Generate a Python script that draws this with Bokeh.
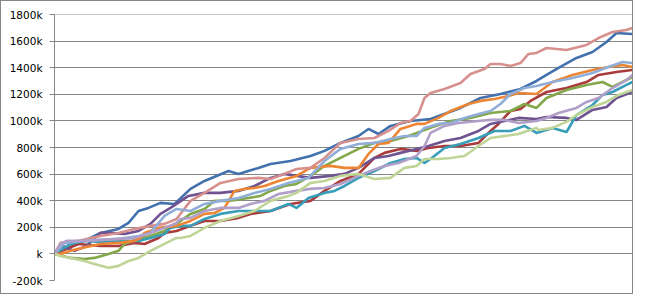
from bokeh.plotting import figure
from bokeh.models import Range1d, FixedTicker
from bokeh.embed import file_html
from bokeh.resources import INLINE

# values in thousands (k); x = simulation step
blue_x = [0, 15, 23, 32, 37, 42, 47, 53, 60, 68, 75, 87, 92, 102, 108, 118, 128, 135, 143, 152, 157, 162, 168, 178, 188, 203, 213, 223, 233, 241, 246, 252, 261, 269, 276, 281, 289]
blue_y = [0, 98, 158, 188, 233, 323, 346, 384, 376, 489, 549, 624, 602, 647, 677, 699, 737, 775, 835, 887, 940, 902, 963, 1000, 1015, 1098, 1173, 1203, 1241, 1301, 1346, 1399, 1474, 1519, 1594, 1662, 1654]

red_x = [0, 6, 12, 23, 32, 40, 45, 52, 55, 61, 68, 75, 83, 92, 98, 108, 118, 128, 135, 143, 152, 160, 165, 173, 181, 187, 195, 203, 212, 218, 222, 228, 233, 238, 246, 256, 266, 272, 281, 289]
red_y = [0, 38, 75, 60, 60, 83, 75, 120, 158, 173, 211, 248, 248, 271, 301, 323, 376, 399, 474, 549, 602, 722, 760, 790, 775, 797, 812, 812, 835, 925, 978, 1075, 1090, 1151, 1218, 1248, 1293, 1346, 1369, 1384]

green_x = [0, 8, 15, 20, 27, 32, 35, 42, 48, 55, 61, 68, 75, 80, 87, 97, 103, 108, 115, 121, 128, 135, 143, 152, 160, 168, 177, 188, 198, 208, 218, 228, 235, 241, 246, 256, 266, 274, 279, 286, 289]
green_y = [0, -30, -38, -30, 0, 23, 75, 113, 135, 173, 226, 301, 338, 399, 399, 421, 436, 474, 511, 526, 587, 662, 722, 790, 835, 850, 887, 948, 1000, 1023, 1060, 1075, 1128, 1098, 1173, 1233, 1271, 1293, 1256, 1308, 1331]

purple_x = [0, 4, 10, 16, 23, 28, 35, 42, 48, 53, 58, 61, 67, 75, 83, 92, 100, 108, 115, 121, 128, 138, 145, 152, 160, 167, 173, 181, 187, 195, 203, 212, 218, 225, 232, 241, 246, 256, 261, 269, 276, 281, 289]
purple_y = [0, 60, 23, 60, 158, 158, 150, 173, 226, 301, 346, 376, 436, 459, 459, 474, 511, 572, 602, 587, 572, 587, 602, 647, 722, 737, 760, 790, 812, 850, 872, 925, 978, 1000, 1023, 1015, 1030, 1023, 1008, 1083, 1105, 1173, 1218]

teal_x = [0, 4, 8, 15, 23, 32, 42, 48, 55, 58, 63, 68, 75, 83, 92, 100, 108, 117, 121, 127, 135, 140, 145, 152, 160, 168, 175, 181, 185, 188, 195, 203, 212, 220, 228, 235, 241, 249, 256, 261, 269, 274, 279, 286, 289]
teal_y = [0, 38, 75, 98, 90, 98, 98, 120, 150, 196, 211, 211, 263, 301, 323, 323, 323, 376, 346, 421, 459, 474, 511, 572, 624, 684, 714, 722, 684, 714, 797, 827, 872, 925, 925, 963, 910, 948, 917, 1045, 1120, 1196, 1218, 1271, 1293]

orange_x = [0, 3, 8, 16, 23, 32, 40, 43, 45, 52, 61, 68, 75, 80, 85, 90, 95, 100, 105, 112, 121, 128, 138, 145, 152, 157, 162, 167, 173, 181, 185, 192, 198, 207, 213, 220, 227, 232, 241, 249, 259, 269, 277, 284, 289]
orange_y = [0, 0, 23, 53, 75, 83, 98, 120, 158, 196, 211, 248, 301, 308, 346, 474, 489, 496, 511, 549, 587, 647, 662, 647, 647, 752, 827, 835, 940, 978, 978, 1023, 1075, 1128, 1151, 1166, 1188, 1211, 1203, 1293, 1346, 1384, 1406, 1421, 1406]

pink_x = [0, 3, 12, 23, 32, 40, 48, 55, 61, 68, 75, 83, 92, 102, 108, 115, 121, 128, 135, 143, 152, 160, 167, 173, 178, 182, 185, 188, 195, 203, 208, 215, 218, 223, 228, 233, 237, 241, 246, 256, 266, 272, 279, 286, 289]
pink_y = [0, 83, 98, 135, 158, 188, 211, 226, 263, 399, 459, 534, 564, 572, 564, 602, 639, 647, 722, 835, 865, 872, 925, 985, 1000, 1053, 1173, 1211, 1241, 1286, 1354, 1391, 1429, 1429, 1414, 1436, 1504, 1512, 1549, 1534, 1572, 1624, 1669, 1684, 1700]

lightblue_x = [0, 5, 15, 32, 42, 48, 55, 61, 68, 75, 83, 92, 100, 108, 117, 121, 127, 135, 143, 152, 160, 168, 175, 181, 185, 192, 198, 205, 212, 218, 223, 228, 235, 241, 249, 259, 269, 277, 284, 289]
lightblue_y = [0, 83, 98, 113, 135, 158, 286, 338, 323, 376, 399, 421, 459, 489, 534, 549, 572, 699, 790, 827, 835, 865, 887, 887, 948, 978, 985, 1023, 1053, 1075, 1128, 1203, 1248, 1263, 1293, 1324, 1361, 1406, 1444, 1436]

lavender_x = [0, 3, 6, 15, 32, 40, 48, 55, 61, 63, 68, 75, 83, 92, 98, 105, 112, 121, 128, 135, 143, 152, 158, 165, 172, 181, 185, 188, 195, 202, 212, 218, 225, 232, 241, 246, 252, 261, 266, 272, 279, 286, 289]
lavender_y = [0, 75, 98, 98, 113, 120, 158, 196, 233, 263, 271, 323, 346, 346, 376, 399, 451, 474, 489, 496, 526, 587, 624, 662, 684, 737, 812, 910, 963, 985, 1000, 1008, 1008, 985, 1000, 1023, 1060, 1098, 1143, 1173, 1248, 1308, 1346]

lightgreen_x = [0, 3, 8, 15, 20, 27, 32, 37, 42, 48, 55, 61, 63, 68, 75, 83, 92, 100, 108, 117, 121, 128, 135, 143, 152, 160, 168, 175, 181, 185, 192, 198, 205, 212, 218, 225, 232, 241, 242, 249, 256, 261, 269, 276, 282, 289]
lightgreen_y = [0, -15, -30, -53, -75, -105, -90, -53, -30, 23, 75, 120, 120, 135, 196, 248, 286, 323, 399, 436, 459, 534, 549, 587, 602, 564, 572, 647, 662, 714, 714, 722, 737, 812, 872, 887, 902, 948, 932, 948, 993, 1045, 1105, 1143, 1196, 1233]

series_x = [blue_x, red_x, green_x, purple_x, teal_x, orange_x, pink_x, lightblue_x, lavender_x, lightgreen_x]
series_y = [blue_y, red_y, green_y, purple_y, teal_y, orange_y, pink_y, lightblue_y, lavender_y, lightgreen_y]
colors = ["#4271AE", "#AA3B3B", "#83A84A", "#6F5290", "#379DB8", "#EC8634",
          "#D6918F", "#90AED8", "#B09FC8", "#BFD598"]

y_ticks = [-200, 0, 200, 400, 600, 800, 1000, 1200, 1400, 1600, 1800]
y_labels = {t: ("k" if t == 0 else f"{t}k") for t in y_ticks}

p = figure(width=633, height=294, output_backend="svg", toolbar_location=None,
           x_range=Range1d(0, 289), y_range=Range1d(-200, 1801),
           min_border_left=53, min_border_right=2, min_border_top=13, min_border_bottom=15)
p.styles = {"border": "1px solid #868686"}

for xs, ys, c in zip(series_x, series_y, colors):
    p.line(xs, ys, line_color=c, line_width=2.6, line_join="round", line_cap="round")

p.xaxis.visible = False
p.xgrid.visible = False
p.outline_line_color = None
p.background_fill_color = "white"
p.border_fill_color = "white"

p.yaxis.ticker = FixedTicker(ticks=y_ticks)
p.yaxis.major_label_overrides = y_labels
p.yaxis.axis_line_color = "#868686"
p.yaxis.major_tick_line_color = "#868686"
p.yaxis.major_tick_out = 5
p.yaxis.major_tick_in = 0
p.yaxis.minor_tick_line_color = None
p.yaxis.major_label_standoff = 7
p.yaxis.major_label_text_font = "DejaVu Sans"
p.yaxis.major_label_text_font_size = "10.5px"
p.yaxis.major_label_text_color = "#000000"
p.ygrid.grid_line_color = "#868686"
p.ygrid.grid_line_width = 1
p.ygrid.level = "underlay"

open("out.html", "w").write(file_html(p, INLINE))
